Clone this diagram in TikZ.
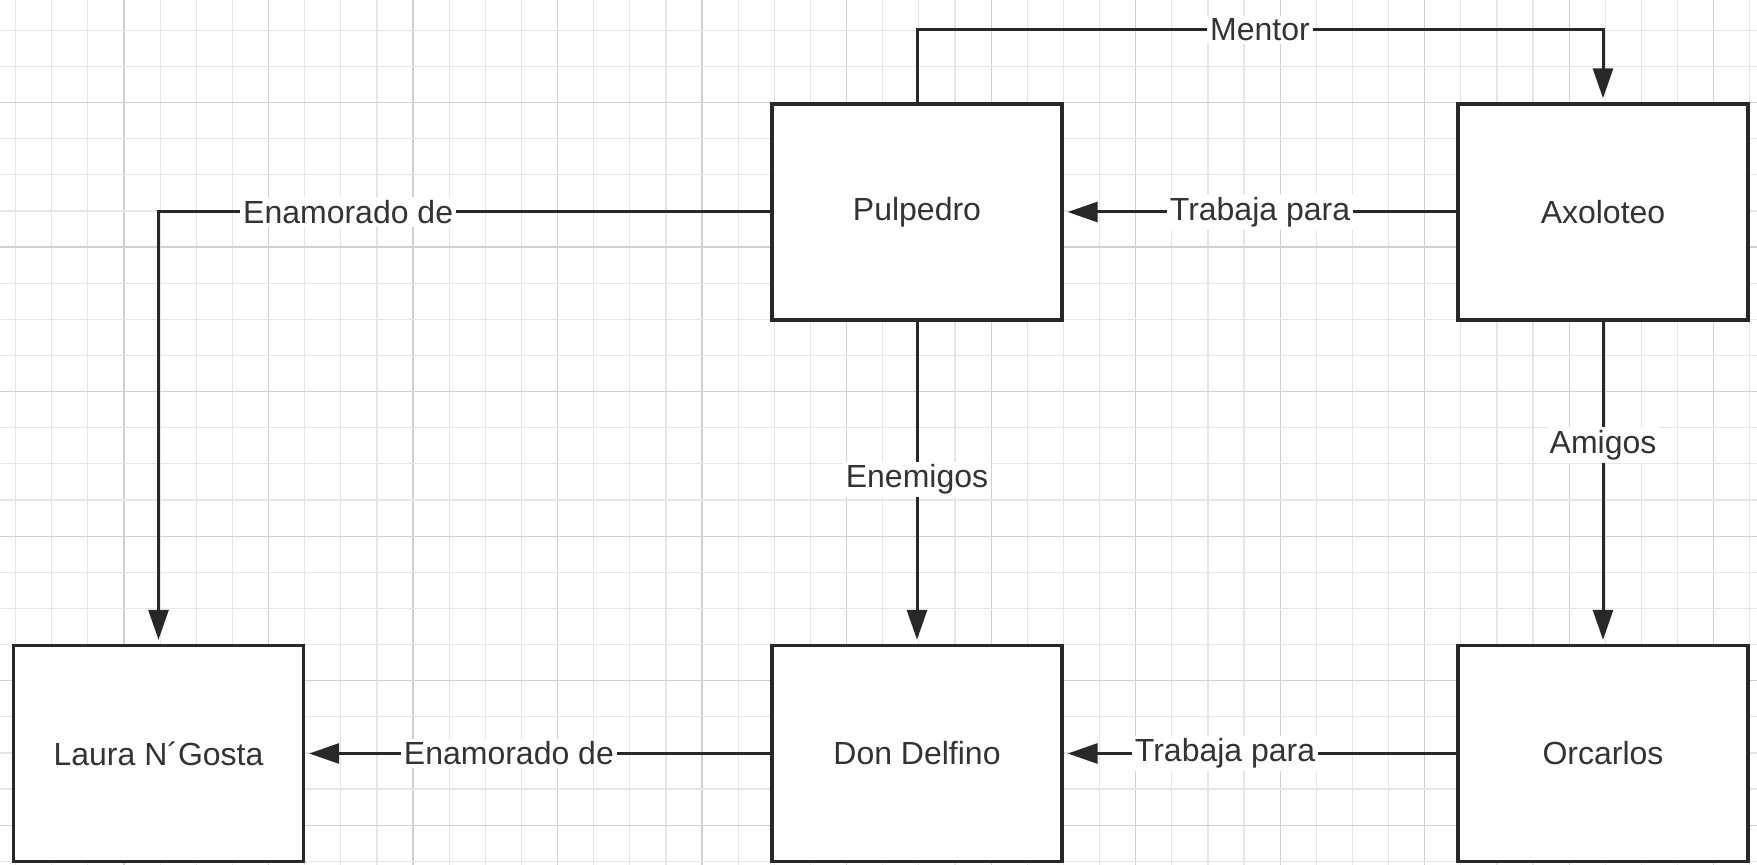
\documentclass[tikz,border=0pt]{standalone}
\usepackage{fontspec}
\setmainfont{Liberation Sans}
\usetikzlibrary{arrows.meta}
\definecolor{gridminor}{RGB}{230,230,230}
\definecolor{gridmajor}{RGB}{208,208,208}
\definecolor{ink}{RGB}{40,40,40}
\definecolor{textink}{RGB}{51,51,51}
\tikzset{
	persona/.style={draw=ink,line width=1.7pt,fill=white,inner sep=0pt,minimum width=145pt,minimum height=108pt,text=textink,font=\fontsize{16pt}{19pt}\selectfont},
	link/.style={draw=ink,line width=1.5pt,-{Triangle[length=15pt,width=10pt]},shorten >=2pt},
	lbl/.style={fill=white,inner sep=1.5pt,text=textink,font=\fontsize{16pt}{19pt}\selectfont}
}

\begin{document}
\begin{tikzpicture}[line cap=rect,line join=miter,x=0.5pt,y=0.5pt]
			\useasboundingbox (0,0) rectangle (1757,864);
			\fill[white] (0,0) rectangle (1757,864);
			% grid
			\foreach \k in {0,...,48} {
				\pgfmathsetmacro{\gx}{15.6+36.13*\k}
				\pgfmathtruncatemacro{\gm}{mod(\k,4)}
				\ifnum\gm=3 \def\gc{gridmajor}\else\def\gc{gridminor}\fi
				\draw[line width=0.6pt,color=\gc] (\gx,0) -- (\gx,864);
			}
			\foreach \k in {0,...,23} {
				\pgfmathsetmacro{\gy}{833.7-36.13*\k}
				\pgfmathtruncatemacro{\gm}{mod(\k,4)}
				\ifnum\gm=2 \def\gc{gridmajor}\else\def\gc{gridminor}\fi
				\draw[line width=0.6pt,color=\gc] (0,\gy) -- (1757,\gy);
			}
			% personajes
			\node[persona] (pul) at (917,652) {Pulpedro};
			\node[persona] (axo) at (1603,652) {Axoloteo};
			\node[persona] (lau) at (158.5,110.5) {Laura N´Gosta};
			\node[persona] (del) at (917,110.5) {Don Delfino};
			\node[persona] (orc) at (1603,110.5) {Orcarlos};
			\coordinate (mentortop) at (1260,834);
			% relaciones
			\draw[link] (pul.north) |- (mentortop) node[lbl] {Mentor} -| (axo.north);
			\draw[link] (pul.west) -| node[lbl,pos=0.345] {Enamorado de} (lau.north);
			\draw[link] (axo.west) -- node[lbl] {Trabaja para} (pul.east);
			\draw[link] (pul.south) -- node[lbl,pos=0.49] {Enemigos} (del.north);
			\draw[link] (axo.south) -- node[lbl,pos=0.384] {Amigos} (orc.north);
			\draw[link] (orc.west) -- node[lbl,pos=0.589] {Trabaja para} (del.east);
			\draw[link] (del.west) -- node[lbl,pos=0.562] {Enamorado de} (lau.east);
		\end{tikzpicture}
\end{document}
